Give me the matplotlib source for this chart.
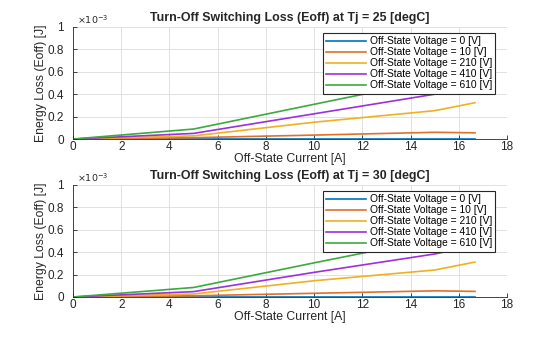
import matplotlib
matplotlib.use("Agg")
import matplotlib.pyplot as plt
from matplotlib.ticker import FuncFormatter

plt.rcParams['font.family'] = ['Liberation Sans', 'DejaVu Sans']

current = [0, 5, 10, 15, 16.67]
voltages = [0, 10, 210, 410, 610]
labels = [f"Off-State Voltage = {v} [V]" for v in voltages]
colors = ['#0072BD', '#E0702A', '#F0B020', '#9B30E0', '#3CAA3C']

# Eoff values in mJ (x1e-3 J)
eoff_25 = [
    [0, 0, 0, 0, 0],
    [0, 0.012, 0.035, 0.060, 0.055],
    [0, 0.028, 0.150, 0.253, 0.324],
    [0, 0.050, 0.225, 0.400, 0.480],
    [0, 0.089, 0.310, 0.530, 0.620],
]
eoff_30 = [
    [0, 0, 0, 0, 0],
    [0, 0.011, 0.033, 0.055, 0.050],
    [0, 0.027, 0.145, 0.241, 0.312],
    [0, 0.048, 0.220, 0.384, 0.460],
    [0, 0.085, 0.305, 0.520, 0.600],
]
temps = [25, 30]

fig = plt.figure(figsize=(5.6, 3.37), dpi=100)
axes_pos = [[0.1304, 0.5875, 0.775, 0.3324], [0.1304, 0.1187, 0.775, 0.3324]]

for pos, data, tj in zip(axes_pos, [eoff_25, eoff_30], temps):
    ax = fig.add_axes(pos)
    for y, c, lab in zip(data, colors, labels):
        ax.plot(current, y, color=c, lw=1.2, label=lab)
    ax.set_xlim(0, 18)
    ax.set_ylim(0, 1)
    ax.set_xticks(range(0, 19, 2))
    ax.set_yticks([0, 0.2, 0.4, 0.6, 0.8, 1])
    ax.yaxis.set_major_formatter(FuncFormatter(lambda v, p: f"{v:g}"))
    ax.grid(True, color='#DCDCDC', lw=0.6)
    ax.set_axisbelow(True)
    for s in ['top', 'right']:
        ax.spines[s].set_visible(False)
    for s in ['left', 'bottom']:
        ax.spines[s].set_color('#262626')
        ax.spines[s].set_linewidth(0.6)
    ax.tick_params(labelsize=8.5, colors='#262626', length=3, width=0.6, direction='in')
    ax.tick_params(axis='x', pad=1.5)
    ax.tick_params(axis='y', pad=6.5)
    ax.set_xlabel('Off-State Current [A]', fontsize=8.8, color='#262626', labelpad=0)
    ax.set_ylabel('Energy Loss (Eoff) [J]', fontsize=8.8, color='#262626', labelpad=0)
    ax.set_title(f'Turn-Off Switching Loss (Eoff) at Tj = {tj} [degC]', fontsize=8.9,
                 fontweight='bold', color='#262626', pad=4)
    ax.text(0.01, 1.01, r'$\times10^{-3}$', transform=ax.transAxes, fontsize=6.8,
            color='#262626', ha='left', va='bottom')
    leg = ax.legend(loc='upper right', bbox_to_anchor=(0.972, 0.944), fontsize=7.4,
                    frameon=True, fancybox=False, edgecolor='#262626', framealpha=1,
                    handlelength=3.9, handletextpad=0.35, labelspacing=0.1,
                    borderpad=0.3, borderaxespad=0)
    leg.get_frame().set_linewidth(0.8)

fig.savefig('out.png', dpi=100)
